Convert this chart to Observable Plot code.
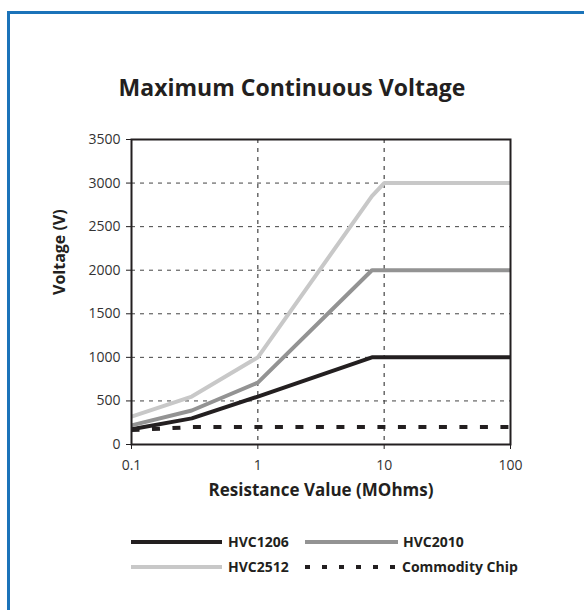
<!DOCTYPE html>
<html>
<head>
<meta charset="utf-8">
<script src="https://cdn.jsdelivr.net/npm/d3@7"></script>
<script src="https://cdn.jsdelivr.net/npm/@observablehq/plot@0.6"></script>
<style>
  html, body { margin: 0; padding: 0; background: #fff; overflow: hidden; }
  body { width: 584px; height: 610px; position: relative; font-family: "Open Sans", sans-serif; }
  #borderTop { position: absolute; left: 7px; top: 11px; width: 577px; height: 3px; background: #1b73b9; }
  #borderLeft { position: absolute; left: 7px; top: 11px; width: 3px; height: 599px; background: #1b73b9; }
  #title { position: absolute; left: 0; width: 584px; top: 72px; text-align: center; font-weight: bold; font-size: 23px; line-height: 30px; color: #231f20; }
  #chart { position: absolute; left: 0; top: 100px; }
  #legend { position: absolute; left: 0; top: 0; }
  .leg { position: absolute; font-weight: bold; font-size: 14px; color: #231f20; line-height: 18px; white-space: nowrap; }
</style>
</head>
<body>
<div id="borderTop"></div>
<div id="borderLeft"></div>
<div id="title">Maximum Continuous Voltage</div>
<div id="chart"></div>
<div id="legend"></div>
<script>
// ---- data ----
const seriesNames = ["HVC1206", "HVC2010", "HVC2512", "Commodity Chip"];
const seriesColors = ["#231f20", "#939393", "#c8c8c8", "#231f20"];
const seriesDash = [null, null, null, "8,12.5"];

const hvc1206X = [0.1, 0.3, 1, 8, 100];
const hvc1206Y = [175, 300, 550, 1000, 1000];

const hvc2010X = [0.1, 0.3, 1, 8, 100];
const hvc2010Y = [220, 390, 710, 2000, 2000];

const hvc2512X = [0.1, 0.3, 1, 8, 10, 100];
const hvc2512Y = [320, 550, 1000, 2850, 3000, 3000];

const commodityX = [0.1, 0.3, 1, 8, 100];
const commodityY = [165, 200, 200, 200, 200];

const xTicks = [0.1, 1, 10, 100];
const xTickLabels = ["0.1", "1", "10", "100"];
const yTicks = [0, 500, 1000, 1500, 2000, 2500, 3000, 3500];
const yTickLabels = ["0", "500", "1000", "1500", "2000", "2500", "3000", "3500"];
const xGrid = [1, 10];
const yGrid = [500, 1000, 1500, 2000, 2500, 3000];

const xLabel = "Resistance Value (MOhms)";
const yLabel = "Voltage (V)";

// ---- build table ----
const seriesXs = [hvc1206X, hvc2010X, hvc2512X, commodityX];
const seriesYs = [hvc1206Y, hvc2010Y, hvc2512Y, commodityY];
const tables = seriesXs.map((xs, i) => xs.map((x, j) => ({series: seriesNames[i], x, y: seriesYs[i][j]})));

const lineMarks = [0, 1, 2, 3].map(i => Plot.line(tables[i], {
  x: "x", y: "y",
  stroke: seriesColors[i],
  strokeWidth: 4,
  strokeDasharray: seriesDash[i] || undefined,
  strokeLinecap: "butt",
  strokeLinejoin: "miter"
}));

const chart = Plot.plot({
  width: 584,
  height: 420,
  marginTop: 39,
  marginBottom: 76,
  marginLeft: 131,
  marginRight: 74,
  style: { fontFamily: "Open Sans, sans-serif", fontSize: "14px", color: "#333", background: "transparent", overflow: "visible" },
  x: { type: "log", domain: [0.1, 100] },
  y: { domain: [0, 3500] },
  marks: [
    Plot.ruleY(yGrid, { stroke: "#444", strokeWidth: 1, strokeDasharray: "4,5" }),
    Plot.ruleX(xGrid, { stroke: "#444", strokeWidth: 1.2, strokeDasharray: "4,5" }),
    lineMarks[0], lineMarks[1], lineMarks[2], lineMarks[3],
    Plot.frame({ stroke: "#231f20", strokeWidth: 2 }),
    Plot.axisY({ ticks: yTicks, tickFormat: (d) => yTickLabels[yTicks.indexOf(d)], tickSize: 5, tickPadding: 6, label: null, stroke: "#231f20", fill: "#333", fontSize: 14 }),
    Plot.axisX({ ticks: xTicks, tickFormat: (d) => xTickLabels[xTicks.indexOf(d)], tickSize: 5, tickPadding: 11, label: null, stroke: "#231f20", fill: "#333", fontSize: 14 }),
    Plot.text([xLabel], { frameAnchor: "bottom", dy: 51, fontWeight: "bold", fontSize: 17, fill: "#231f20" }),
    Plot.text([yLabel], { frameAnchor: "left", dx: -72, dy: 3, rotate: -90, fontWeight: "bold", fontSize: 16, fill: "#231f20" })
  ]
});
document.getElementById("chart").appendChild(chart);

// ---- legend ----
const legend = document.getElementById("legend");
const legPos = [
  { sx: 131, sw: 91, tx: 228, y: 542 },
  { sx: 305, sw: 93, tx: 403, y: 542 },
  { sx: 131, sw: 91, tx: 228, y: 567 },
  { sx: 305, sw: 93, tx: 402, y: 567 }
];
seriesNames.forEach((name, i) => {
  const p = legPos[i];
  const svgNS = "http://www.w3.org/2000/svg";
  const svg = document.createElementNS(svgNS, "svg");
  svg.setAttribute("width", p.sw);
  svg.setAttribute("height", 8);
  svg.style.position = "absolute";
  svg.style.left = p.sx + "px";
  svg.style.top = (p.y - 4) + "px";
  const ln = document.createElementNS(svgNS, "line");
  ln.setAttribute("x1", 0); ln.setAttribute("x2", p.sw);
  ln.setAttribute("y1", 4); ln.setAttribute("y2", 4);
  ln.setAttribute("stroke", seriesColors[i]);
  ln.setAttribute("stroke-width", 4);
  if (seriesDash[i]) ln.setAttribute("stroke-dasharray", "5,12");
  svg.appendChild(ln);
  legend.appendChild(svg);
  const t = document.createElement("div");
  t.className = "leg";
  t.textContent = name;
  t.style.left = p.tx + "px";
  t.style.top = (p.y - 9) + "px";
  legend.appendChild(t);
});
</script>
</body>
</html>
